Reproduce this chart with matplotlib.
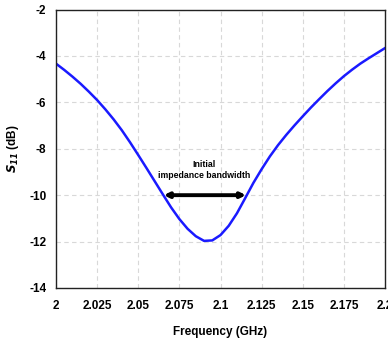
import numpy as np
import matplotlib.pyplot as plt

plt.rcParams['font.family'] = ['Liberation Sans', 'DejaVu Sans']
plt.rcParams['axes.unicode_minus'] = False

freq = [2.0, 2.005, 2.01, 2.015, 2.02, 2.025, 2.03, 2.035, 2.04, 2.045, 2.05,
        2.055, 2.06, 2.065, 2.07, 2.075, 2.08, 2.085, 2.09, 2.095, 2.1, 2.105,
        2.11, 2.115, 2.12, 2.125, 2.13, 2.135, 2.14, 2.145, 2.15, 2.155, 2.16,
        2.165, 2.17, 2.175, 2.18, 2.185, 2.19, 2.195, 2.2]
s11 = [-4.33, -4.6, -4.89, -5.2, -5.54, -5.9, -6.3, -6.73, -7.2, -7.72, -8.27,
       -8.83, -9.4, -9.97, -10.53, -11.03, -11.45, -11.77, -11.97, -11.95, -11.72, -11.32,
       -10.78, -10.13, -9.47, -8.88, -8.33, -7.84, -7.4, -6.99, -6.6, -6.22, -5.86,
       -5.51, -5.18, -4.87, -4.59, -4.33, -4.1, -3.88, -3.66]

xticks = [2, 2.025, 2.05, 2.075, 2.1, 2.125, 2.15, 2.175, 2.2]
xlabels = ["2", "2.025", "2.05", "2.075", "2.1", "2.125", "2.15", "2.175", "2.2"]
yticks = [-14, -12, -10, -8, -6, -4, -2]

# ancho de banda inicial (-10 dB)
bw_ini = [2.0655, 2.1155]

fig = plt.figure(figsize=(3.88, 3.42), dpi=100)
ax = fig.add_axes([0.1443, 0.158, 0.848, 0.814])

ax.plot(freq, s11, color="#1a1aff", lw=1.8)

ax.annotate("", xy=(bw_ini[0], -10), xytext=(bw_ini[1], -10),
            arrowprops=dict(arrowstyle="<|-|>", color="black", lw=2.8,
                            mutation_scale=7, shrinkA=0, shrinkB=0))
ax.text(sum(bw_ini) / 2 - 0.0005, -9.35, "Initial\nimpedance bandwidth", ha="center",
        va="bottom", fontsize=6.3, fontweight="bold", linespacing=1.35)

ax.set_xlim(2, 2.2)
ax.set_ylim(-14, -2)
ax.set_xticks(xticks)
ax.set_xticklabels(xlabels)
ax.set_yticks(yticks)
ax.grid(True, color="#d8d8d8", ls=(0, (4, 3)), lw=0.8)
ax.tick_params(length=0, labelsize=8.5)
ax.tick_params(axis="x", pad=9)
ax.tick_params(axis="y", pad=7)
for lab in ax.get_xticklabels() + ax.get_yticklabels():
    lab.set_fontweight("bold")
for sp in ax.spines.values():
    sp.set_color("#222222")
    sp.set_linewidth(1.0)

ax.set_xlabel("Frequency (GHz)", fontsize=8.5, fontweight="bold", labelpad=10)
ax.set_ylabel("$\\mathbfit{S}_{\\mathbfit{11}}$ (dB)", fontsize=8.5, fontweight="bold", labelpad=6)

fig.savefig("out.png", dpi=100)
